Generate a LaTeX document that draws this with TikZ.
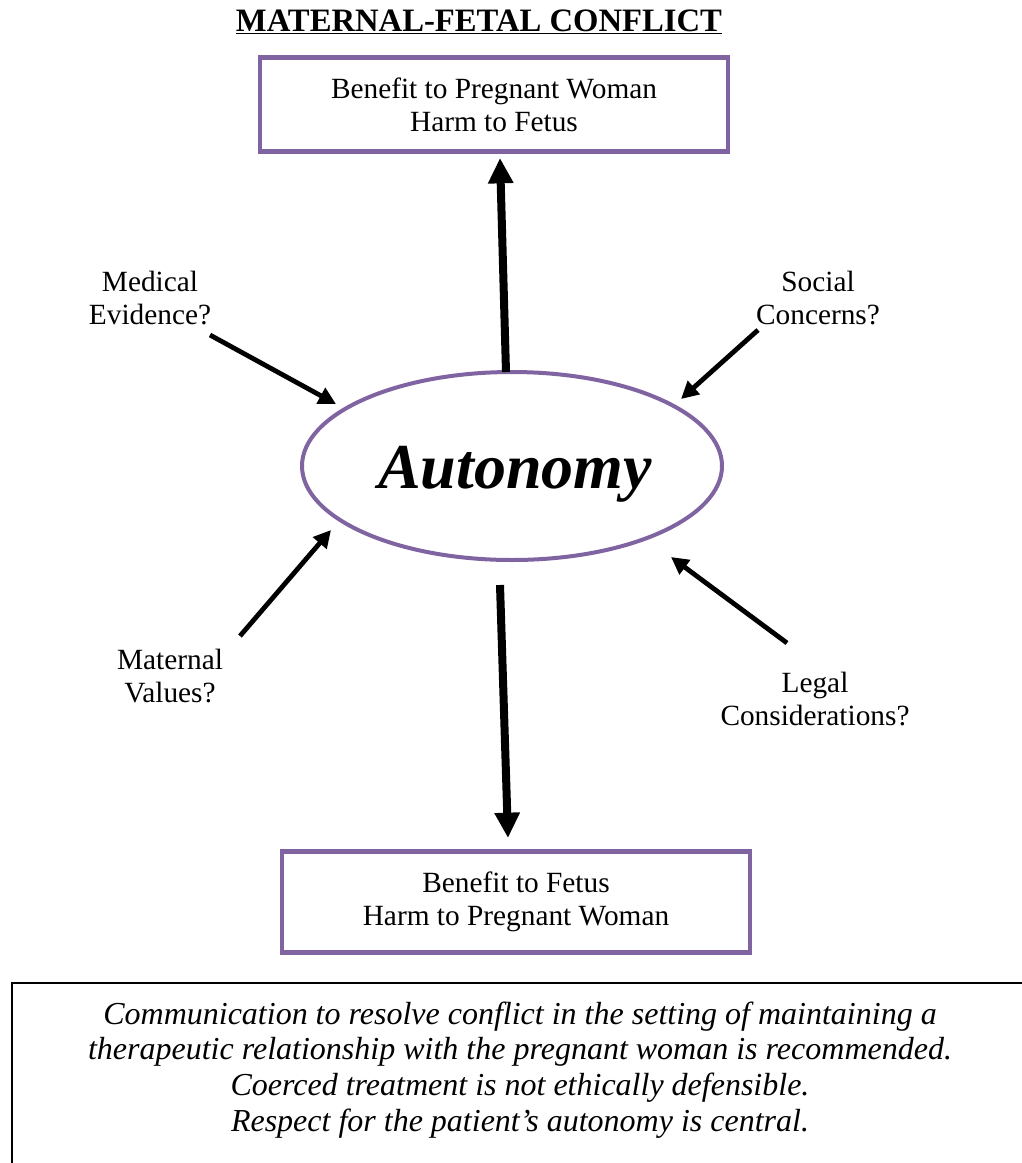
\documentclass[tikz,border=0pt]{standalone}
\usepackage{fontspec}
\setmainfont{Liberation Serif}
\usetikzlibrary{arrows.meta}
\definecolor{mfpurple}{HTML}{8064A2}
\begin{document}
\begin{tikzpicture}[x=0.75pt,y=-0.75pt,
  lbl/.style={inner sep=0pt,align=center,font=\fontsize{22}{25}\selectfont},
  outcome/.style={draw=mfpurple,line width=3.6pt,minimum width=351pt,minimum height=71pt,inner sep=0pt,align=center,font=\fontsize{22}{25}\selectfont},
  bigarrow/.style={line width=6pt,-{Triangle[length=19pt,width=18pt]}},
  smallarrow/.style={line width=3.6pt,-{Triangle[length=13pt,width=13pt]}}]
\useasboundingbox (0,0) rectangle (1021,1163);
\fill[white] (0,0) rectangle (1021,1163);
\node[inner sep=0pt,font=\bfseries\fontsize{24.5}{28}\selectfont] (title) at (479,22) {\underline{MATERNAL-FETAL CONFLICT}};
\node[outcome] (top) at (494,104.5) {Benefit to Pregnant Woman\\Harm to Fetus};
\node[outcome,minimum height=76pt] (bot) at (516,902) {Benefit to Fetus\\Harm to Pregnant Woman};
\draw[mfpurple,line width=3pt] (512,466) ellipse [x radius=210, y radius=94];
\node[inner sep=0pt,font=\bfseries\itshape\fontsize{48}{56}\selectfont] (auto) at (515,474) {Autonomy};
\node[lbl] (med) at (150,298) {Medical\\Evidence?};
\node[lbl] (soc) at (818,298) {Social\\Concerns?};
\node[lbl] (mat) at (170,676) {Maternal\\Values?};
\node[lbl] (leg) at (815,699) {Legal\\Considerations?};
\coordinate (topS) at (506,372);
\coordinate (topE) at (500,158);
\coordinate (botS) at (500,585);
\coordinate (botE) at (508,838);
\coordinate (medS) at (210,335);
\coordinate (medE) at (336,404);
\coordinate (socS) at (758,330);
\coordinate (socE) at (681,399);
\coordinate (matS) at (240,636);
\coordinate (matE) at (331,530);
\coordinate (legS) at (787,643);
\coordinate (legE) at (671,557);
\draw[bigarrow] (topS) -- (topE);
\draw[bigarrow] (botS) -- (botE);
\draw[smallarrow] (medS) -- (medE);
\draw[smallarrow] (socS) -- (socE);
\draw[smallarrow] (matS) -- (matE);
\draw[smallarrow] (legS) -- (legE);
\draw[line width=1.5pt] (1030,983) -- (12,983) -- (12,1175);
\node[lbl,font=\itshape\fontsize{24}{26.8}\selectfont] (note) at (520,1070) {Communication to resolve conflict in the setting of maintaining a\\therapeutic relationship with the pregnant woman is recommended.\\Coerced treatment is not ethically defensible.\\Respect for the patient’s autonomy is central.};
\end{tikzpicture}
\end{document}
